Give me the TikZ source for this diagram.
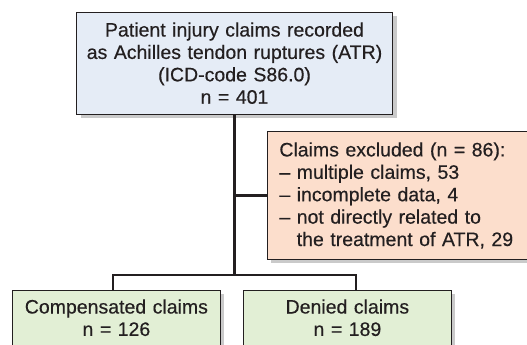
\documentclass[tikz,border=0pt]{standalone}
\usepackage{fontspec}
\setmainfont{Liberation Sans}[FakeBold=0.4]
\usetikzlibrary{positioning,calc,shadows}
\definecolor{topblue}{RGB}{229,236,246}
\definecolor{exclred}{RGB}{252,222,204}
\definecolor{resgreen}{RGB}{226,239,213}
\definecolor{linegray}{RGB}{35,31,32}
\tikzset{
    every node/.style={font=\fontsize{19.5}{22.4}\selectfont, text=linegray},
    boxbase/.style={draw=linegray, line width=0.8pt, inner xsep=6pt, inner ysep=8pt,
        drop shadow={shadow xshift=4pt, shadow yshift=-4pt, fill=black!35, opacity=0.6}},
    topbox/.style={boxbase, fill=topblue, align=center, text width=304pt, inner ysep=10pt},
    exclbox/.style={boxbase, fill=exclred, align=left, text width=260pt, inner xsep=12pt, minimum height=128pt},
    resbox/.style={boxbase, fill=resgreen, align=center, text width=196pt, inner ysep=9pt},
    connector/.style={draw=linegray, line width=2.6pt},
}

\begin{document}
\begin{tikzpicture}[x=1pt, y=-1pt]
\useasboundingbox (0,0) rectangle (527,345);
% flow from the recorded claims down to the two outcomes
\node[topbox, anchor=north] (recorded) at (234.5,12) {Patient injury claims recorded\\as Achilles tendon ruptures (ATR)\\(ICD-code S86.0)\\n = 401};
\node[exclbox, anchor=north west] (excluded) at (267,131) {Claims excluded (n = 86):\\– multiple claims, 53\\– incomplete data, 4\\– not directly related to\\\phantom{– }the treatment of ATR, 29};
\node[resbox, anchor=north west] (compensated) at (12,290) {Compensated claims\\n = 126};
\node[resbox, anchor=north west] (denied) at (243,290) {Denied claims\\n = 189};
% split point and the two branch ends
\coordinate (split) at (recorded.south |- 0,275);
\coordinate (lbranch) at (113,275);
\coordinate (rbranch) at (356,275);
\draw[connector] (recorded.south) -- (split);
\draw[connector] (recorded.south |- excluded.west) -- (excluded.west);
\draw[connector, line cap=rect] (lbranch) -- (rbranch);
\draw[connector] (lbranch) -- (lbranch |- compensated.north);
\draw[connector] (rbranch) -- (rbranch |- denied.north);
\end{tikzpicture}
\end{document}
